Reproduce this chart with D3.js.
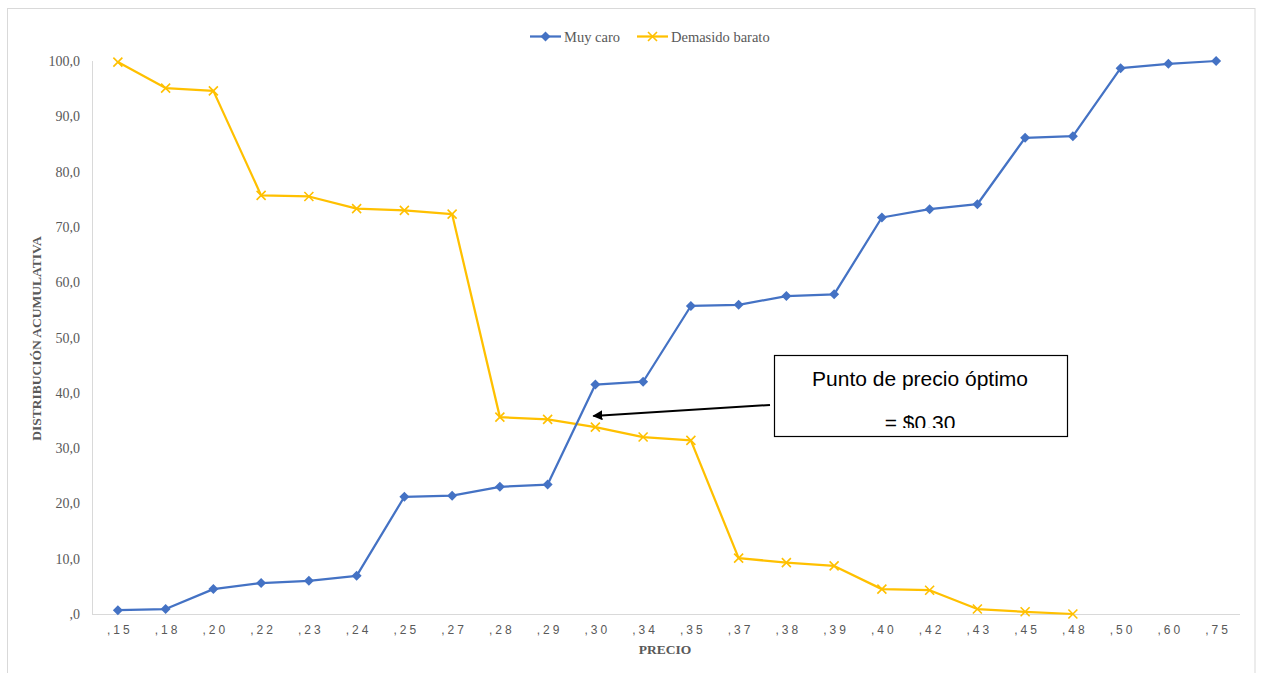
<!DOCTYPE html>
<html>
<head>
<meta charset="utf-8">
<script src="https://cdn.jsdelivr.net/npm/d3@7"></script>
<style>
html,body{margin:0;padding:0;background:#fff;overflow:hidden;}
svg{display:block;}
</style>
</head>
<body>
<svg id="chart" width="1261" height="673"></svg>
<script>
const categories = [",15",",18",",20",",22",",23",",24",",25",",27",",28",",29",",30",",34",",35",",37",",38",",39",",40",",42",",43",",45",",48",",50",",60",",75"];
const muyCaro = [0.7,0.9,4.5,5.6,6.0,6.9,21.2,21.4,23.0,23.4,41.5,42.0,55.7,55.9,57.5,57.8,71.7,73.2,74.1,86.1,86.4,98.7,99.5,100.0];
const demasiadoBarato = [99.8,95.1,94.6,75.7,75.5,73.3,73.0,72.3,35.6,35.2,33.8,32.0,31.4,10.1,9.3,8.7,4.5,4.3,0.9,0.4,0.0,null,null,null];
const yTicks = [0,10,20,30,40,50,60,70,80,90,100];
const seriesNames = ["Muy caro","Demasido barato"];
const annotationLines = ["Punto de precio óptimo","= $0.30"];

(function(){
const svg = d3.select("#chart");
const pL = 92, pR = 1240, pT = 61, pB = 614;

svg.append("rect").attr("x",7.5).attr("y",8.5).attr("width",1247.5).attr("height",680)
  .attr("fill","none").attr("stroke","#d9d9d9").attr("stroke-width",1);

const x = d3.scaleBand().domain(categories).range([pL+2, pR]).padding(0);
const y = d3.scaleLinear().domain([0,100]).range([pB, pT]);
const cx = c => x(c) + x.bandwidth()/2;

svg.append("line").attr("x1",pL+0.5).attr("x2",pL+0.5).attr("y1",pT).attr("y2",pB)
  .attr("stroke","#d9d9d9");
svg.append("line").attr("x1",pL).attr("x2",pR).attr("y1",pB+0.5).attr("y2",pB+0.5)
  .attr("stroke","#d9d9d9");

svg.append("g").selectAll("text").data(yTicks).join("text")
  .attr("x",pL-12).attr("y",d=>y(d)+5)
  .attr("text-anchor","end")
  .attr("font-family","Liberation Serif, Times New Roman, serif")
  .attr("font-size",14).attr("fill","#595959")
  .text(d => d===0 ? ",0" : d.toFixed(1).replace(".",","));

svg.append("g").selectAll("text").data(categories).join("text")
  .attr("x",d=>cx(d)+2).attr("y",pB+20)
  .attr("text-anchor","middle")
  .attr("font-family","Liberation Sans, Arial, sans-serif")
  .attr("font-size",12).attr("letter-spacing","3px").attr("fill","#595959")
  .text(d=>d);

svg.append("text").attr("x",665).attr("y",654)
  .attr("text-anchor","middle")
  .attr("font-family","Liberation Serif, Times New Roman, serif")
  .attr("font-size",13.5).attr("font-weight","bold").attr("fill","#595959")
  .text("PRECIO");
svg.append("text").attr("transform",`translate(41,${(pT+pB)/2+1}) rotate(-90)`)
  .attr("text-anchor","middle")
  .attr("font-family","Liberation Serif, Times New Roman, serif")
  .attr("font-size",13.5).attr("font-weight","bold").attr("fill","#595959")
  .text("DISTRIBUCIÓN ACUMULATIVA");

const blue = "#4472C4", gold = "#FFC000";

const line = d3.line().defined(d=>d.v!==null).x(d=>cx(d.c)).y(d=>y(d.v));
const dataBlue = categories.map((c,i)=>({c,v:muyCaro[i]}));
const dataGold = categories.map((c,i)=>({c,v:demasiadoBarato[i]}));
svg.append("path").datum(dataGold).attr("d",line).attr("fill","none")
  .attr("stroke",gold).attr("stroke-width",2.25).attr("stroke-linejoin","round");
svg.append("path").datum(dataBlue).attr("d",line).attr("fill","none")
  .attr("stroke",blue).attr("stroke-width",2.25).attr("stroke-linejoin","round");

const ds = 5;
const diamond = `M0,${-ds}L${ds},0L0,${ds}L${-ds},0Z`;
svg.append("g").selectAll("path").data(dataBlue.filter(d=>d.v!==null)).join("path")
  .attr("d",diamond).attr("transform",d=>`translate(${cx(d.c)},${y(d.v)})`)
  .attr("fill",blue);
const xs = 4.5;
const cross = `M${-xs},${-xs}L${xs},${xs}M${-xs},${xs}L${xs},${-xs}`;
svg.append("g").selectAll("path").data(dataGold.filter(d=>d.v!==null)).join("path")
  .attr("d",cross)
  .attr("transform",d=>`translate(${cx(d.c)},${y(d.v)})`)
  .attr("stroke",gold).attr("stroke-width",1.6).attr("fill","none");

const lg = svg.append("g");
const legendItems = [{n:seriesNames[0],c:blue,t:"d",x:530},{n:seriesNames[1],c:gold,t:"x",x:637}];
legendItems.forEach(it=>{
  lg.append("line").attr("x1",it.x).attr("x2",it.x+31).attr("y1",36.5).attr("y2",36.5)
    .attr("stroke",it.c).attr("stroke-width",2.25);
  if(it.t==="d"){
    lg.append("path").attr("d",diamond).attr("transform",`translate(${it.x+15.5},36.5)`).attr("fill",it.c);
  } else {
    lg.append("path").attr("d",cross)
      .attr("transform",`translate(${it.x+15.5},36.5)`).attr("stroke",it.c).attr("stroke-width",1.6);
  }
  lg.append("text").attr("x",it.x+34).attr("y",41.5)
    .attr("font-family","Liberation Serif, Times New Roman, serif")
    .attr("font-size",14.5).attr("fill","#595959").text(it.n);
});

const defs = svg.append("defs");
defs.append("marker").attr("id","arr").attr("viewBox","0 0 10 10").attr("refX",9).attr("refY",5)
  .attr("markerWidth",5).attr("markerHeight",5).attr("orient","auto")
  .append("path").attr("d","M0,0L10,5L0,10z").attr("fill","#000");
defs.append("clipPath").attr("id","boxclip").append("rect")
  .attr("x",774).attr("y",355).attr("width",294).attr("height",73);
const ax = cx(",30"), ay = y(36);
svg.append("line").attr("x1",770).attr("y1",405).attr("x2",ax-2).attr("y2",ay+1)
  .attr("stroke","#000").attr("stroke-width",2).attr("marker-end","url(#arr)");
svg.append("rect").attr("x",774.5).attr("y",355.5).attr("width",293).attr("height",81)
  .attr("fill","#fff").attr("stroke","#000").attr("stroke-width",1.2);
const tg = svg.append("g").attr("clip-path","url(#boxclip)");
tg.append("text").attr("x",920).attr("y",386).attr("text-anchor","middle")
  .attr("font-family","Liberation Sans, Arial, sans-serif").attr("font-size",21).attr("fill","#000")
  .text(annotationLines[0]);
tg.append("text").attr("x",920).attr("y",430).attr("text-anchor","middle")
  .attr("font-family","Liberation Sans, Arial, sans-serif").attr("font-size",21).attr("fill","#000")
  .text(annotationLines[1]);
})();
</script>
</body>
</html>
